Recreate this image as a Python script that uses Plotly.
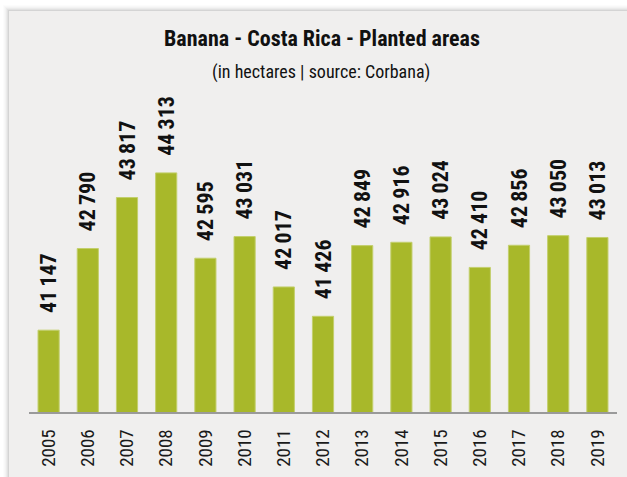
import plotly.graph_objects as go

years = ["2005", "2006", "2007", "2008", "2009", "2010", "2011", "2012",
         "2013", "2014", "2015", "2016", "2017", "2018", "2019"]
areas = [41147, 42790, 43817, 44313, 42595, 43031, 42017, 41426,
         42849, 42916, 43024, 42410, 42856, 43050, 43013]
title_text = "Banana - Costa Rica - Planted areas"
subtitle_text = "(in hectares | source: Corbana)"

W, H = 627, 477
ML, MR, MT, MB = 29, 10, 99, 65
PW, PH = W - ML - MR, H - MT - MB

def px_x(x):
    return (x - ML) / PW

def px_y(y):
    return (H - MB - y) / PH

FONT = "Roboto Condensed, Liberation Sans Narrow, DejaVu Sans Condensed, sans-serif"

# leading en-space + thin space gives the gap between bar top and rotated label
labels = ["\u2002\u2009" + f"{v:,}".replace(",", "\u2009") for v in areas]

fig = go.Figure()
fig.add_trace(go.Bar(
    x=years, y=areas, text=labels,
    textposition="outside", textangle=-90, constraintext="none", cliponaxis=False,
    textfont=dict(family=FONT, size=22, color="#111111", weight="bold"),
    marker=dict(color="#a8b82a", line=dict(color="#c3cf6c", width=1)),
    hoverinfo="skip",
))

shapes = []
for i, op in enumerate([0.05, 0.04, 0.03, 0.02, 0.015, 0.01]):
    d = i + 1
    shapes.append(dict(type="rect", xref="paper", yref="paper", layer="below",
                       x0=px_x(9 - d), x1=px_x(W + 20), y0=px_y(H + 20), y1=px_y(11 - d),
                       fillcolor=f"rgba(0,0,0,{op})", line=dict(width=0)))
shapes.append(dict(type="rect", xref="paper", yref="paper", layer="below",
                   x0=px_x(9), x1=px_x(W + 20), y0=px_y(H + 20), y1=px_y(11),
                   fillcolor="#f0efee", line=dict(width=0)))

annotations = [
    dict(x=px_x(322), y=px_y(39), xref="paper", yref="paper",
         text=f"<b>{title_text}</b>", showarrow=False,
         xanchor="center", yanchor="middle",
         font=dict(family=FONT, size=22, color="#111111")),
    dict(x=px_x(321), y=px_y(72), xref="paper", yref="paper",
         text=subtitle_text, showarrow=False,
         xanchor="center", yanchor="middle",
         font=dict(family=FONT, size=18, color="#111111")),
]

fig.update_layout(
    width=W, height=H,
    margin=dict(l=ML, r=MR, t=MT, b=MB, pad=0),
    paper_bgcolor="white",
    plot_bgcolor="rgba(0,0,0,0)",
    bargap=0.46,
    showlegend=False,
    shapes=shapes,
    annotations=annotations,
    uniformtext=dict(mode=False),
)
fig.update_xaxes(
    type="category", range=[-0.5, 14.5], showgrid=False, zeroline=False,
    showline=True, linecolor="#9a9a9a", linewidth=1.5, automargin=False,
    ticks="", tickangle=-90, ticklabelstandoff=8,
    tickfont=dict(family=FONT, size=19, color="#1a1a1a"),
)
fig.update_yaxes(
    range=[39500, 45800], showgrid=False, zeroline=False, showline=False,
    showticklabels=False, ticks="", automargin=False,
)

fig.write_html("out.html")
